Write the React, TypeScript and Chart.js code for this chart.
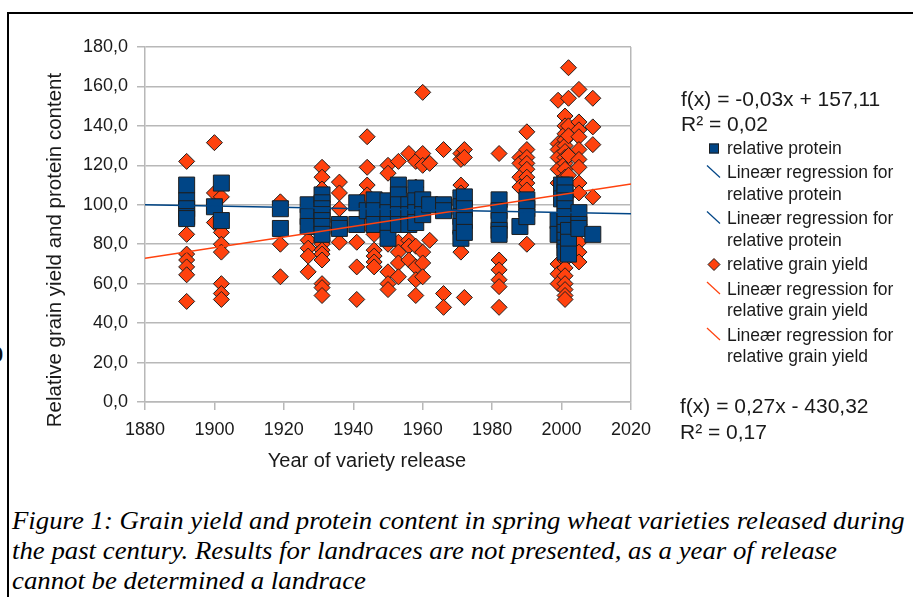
import React, { useEffect, useRef } from "react";
import { Chart, registerables } from "chart.js";

Chart.register(...registerables);

// ---------- DATA ----------
const proteinYears = [1892, 1900, 1902, 1919, 1927, 1931, 1936, 1941, 1944, 1946, 1950, 1953, 1956, 1958, 1960, 1962, 1966, 1971, 1972, 1982, 1988, 1990, 1999, 2000, 2001, 2002, 2005, 2009];
const proteinValues = [
  [110, 102, 98, 94, 93],
  [99],
  [111, 92],
  [98, 88],
  [100, 94, 89],
  [105, 101, 98, 95, 92, 89, 85],
  [90, 88],
  [101, 90],
  [97],
  [102.5, 97, 90],
  [102, 96, 90, 83],
  [110, 105, 100, 95, 90],
  [100, 95, 90],
  [108.5, 102, 96, 91],
  [102.5, 95],
  [100],
  [100, 97],
  [103.5, 99, 94, 89, 83],
  [104, 98, 92, 86],
  [102.5, 97, 92, 87, 85],
  [89],
  [102.5, 98, 94],
  [92, 85],
  [110, 103],
  [110, 106, 102, 98, 94, 90, 86, 82, 78, 76],
  [87, 81, 75],
  [96, 90, 88],
  [85],
];

const yieldYears = [1892, 1900, 1902, 1919, 1927, 1931, 1936, 1941, 1944, 1946, 1950, 1953, 1956, 1958, 1960, 1962, 1966, 1971, 1972, 1982, 1988, 1990, 1999, 2001, 2002, 2005, 2009];
const yieldValues = [
  [122, 85, 75, 72, 68.5, 64.5, 51],
  [131.5, 106, 91],
  [104, 86, 80, 76, 60, 55, 52],
  [101.5, 80, 63.5],
  [87, 82, 78, 74, 66],
  [119, 114, 108, 82, 80, 77, 75, 72, 60, 58, 54],
  [111.5, 106, 98, 81],
  [81, 68.5, 52],
  [134.5, 119, 110, 105, 90],
  [85, 77, 74, 71, 68.5],
  [120, 116, 87, 80, 66, 60, 57],
  [122, 102.5, 81, 76, 70.5, 63.5],
  [126, 90, 82, 79, 72],
  [122, 109, 79, 68.5, 62, 54],
  [157, 126, 120, 76, 70.5, 63.5],
  [121, 100, 82],
  [128, 55, 48],
  [126, 123, 110, 106, 86, 76],
  [128, 124, 53],
  [126, 99, 72, 67, 62, 58.5, 48],
  [124, 121, 114, 109],
  [137, 128, 124, 121, 118, 114, 111, 107.5, 80],
  [153, 131, 128, 124, 118, 111, 70, 65, 60],
  [145, 140, 136, 133, 130, 127, 124, 121, 118, 114, 110, 106, 104, 100, 95, 90, 72, 68, 64, 60, 57, 54, 52],
  [169.5, 154, 140, 135, 125, 115, 105, 85, 78],
  [158.5, 142, 138, 134.5, 128, 123, 119, 111, 106, 90, 86, 81, 76, 71],
  [154, 139.5, 130.5, 104],
];

const proteinTrendYears = [1880, 2020];
const proteinTrendValues = [100.0, 95.4];
const yieldTrendYears = [1880, 2020];
const yieldTrendValues = [72.9, 110.5];

const proteinFormula = ["f(x) = -0,03x + 157,11", "R\u00B2 = 0,02"];
const yieldFormula = ["f(x) = 0,27x - 430,32", "R\u00B2 = 0,17"];

const legendLabels = [
  ["relative protein"],
  ["Line\u00E6r regression for", "relative protein"],
  ["Line\u00E6r regression for", "relative protein"],
  ["relative grain yield"],
  ["Line\u00E6r regression for", "relative grain yield"],
  ["Line\u00E6r regression for", "relative grain yield"],
];
const legendKinds = ["rect", "line", "line", "diamond", "line", "line"];
const legendSeries = ["protein", "protein", "protein", "yield", "yield", "yield"];

const xAxisTitle = "Year of variety release";
const yAxisTitle = "Relative grain yield and protein content";

const captionLines = [
  "Figure 1: Grain yield and protein content in spring wheat varieties released during",
  "the past century. Results for landraces are not presented, as a year of release",
  "cannot be determined a landrace",
];

// ---------- STYLE ----------
const BLUE = "#004586";
const ORANGE = "#ff420e";
const EDGE = "#1e1e1e";
const GRID = "#b8b8b8";
const TEXT = "#1a1a1a";
const FONT = '"Liberation Sans", Arial, sans-serif';

function flatten(years: number[], values: number[][]) {
  const out: { x: number; y: number }[] = [];
  years.forEach((yr, i) => values[i].forEach((v) => out.push({ x: yr, y: v })));
  return out;
}

const overlayPlugin = {
  id: "overlay",
  afterDraw(chart: any) {
    const ctx = chart.ctx as CanvasRenderingContext2D;
    ctx.save();
    ctx.fillStyle = TEXT;
    ctx.textBaseline = "middle";

    // axis titles
    ctx.font = `20.5px ${FONT}`;
    ctx.save();
    ctx.translate(55, 250);
    ctx.rotate(-Math.PI / 2);
    ctx.textAlign = "center";
    ctx.fillText(yAxisTitle, 0, 0);
    ctx.restore();
    ctx.font = `20px ${FONT}`;
    ctx.textAlign = "center";
    ctx.fillText(xAxisTitle, 367, 461);

    // formulas
    ctx.textAlign = "left";
    ctx.font = `21px ${FONT}`;
    ctx.fillText(proteinFormula[0], 681, 100);
    ctx.fillText(proteinFormula[1], 681, 125);
    ctx.fillText(yieldFormula[0], 680, 407);
    ctx.fillText(yieldFormula[1], 680, 433);

    // legend
    ctx.font = `17.5px ${FONT}`;
    let y = 149;
    legendLabels.forEach((lines, i) => {
      const color = legendSeries[i] === "protein" ? BLUE : ORANGE;
      const kind = legendKinds[i];
      if (kind === "rect") {
        ctx.fillStyle = color;
        ctx.fillRect(709, y - 5.5, 10, 10);
        ctx.strokeStyle = EDGE;
        ctx.lineWidth = 1;
        ctx.strokeRect(709.5, y - 5, 9, 9);
      } else if (kind === "diamond") {
        ctx.beginPath();
        ctx.moveTo(714, y - 7);
        ctx.lineTo(720, y - 1);
        ctx.lineTo(714, y + 5);
        ctx.lineTo(708, y - 1);
        ctx.closePath();
        ctx.fillStyle = color;
        ctx.fill();
        ctx.strokeStyle = EDGE;
        ctx.lineWidth = 1;
        ctx.stroke();
      } else {
        ctx.beginPath();
        ctx.moveTo(707, y - 8);
        ctx.lineTo(720, y + 4);
        ctx.strokeStyle = color;
        ctx.lineWidth = 1.2;
        ctx.stroke();
      }
      ctx.fillStyle = TEXT;
      lines.forEach((t, k) => ctx.fillText(t, 727, y + k * 21.5));
      y += (lines.length - 1) * 21.5 + 24.5;
    });
    ctx.restore();
  },
};

export default function App() {
  const ref = useRef<HTMLCanvasElement | null>(null);

  useEffect(() => {
    if (!ref.current) return;
    const chart = new Chart(ref.current, {
      type: "scatter",
      data: {
        datasets: [
          {
            label: "Linear regression protein",
            data: proteinTrendYears.map((x, i) => ({ x, y: proteinTrendValues[i] })),
            showLine: true,
            borderColor: BLUE,
            borderWidth: 1.5,
            pointRadius: 0,
            order: 0,
          },
          {
            label: "Linear regression yield",
            data: yieldTrendYears.map((x, i) => ({ x, y: yieldTrendValues[i] })),
            showLine: true,
            borderColor: ORANGE,
            borderWidth: 1.5,
            pointRadius: 0,
            order: 0,
          },
          {
            label: "relative protein",
            data: flatten(proteinYears, proteinValues),
            pointStyle: "rect",
            pointRadius: 11.3,
            backgroundColor: BLUE,
            borderColor: EDGE,
            borderWidth: 1,
            order: 1,
          },
          {
            label: "relative grain yield",
            data: flatten(yieldYears, yieldValues),
            pointStyle: "rectRot",
            pointRadius: 8,
            backgroundColor: ORANGE,
            borderColor: EDGE,
            borderWidth: 1,
            order: 2,
          },
        ],
      },
      options: {
        responsive: false,
        animation: false,
        events: [],
        layout: { padding: { top: 47, right: 282, left: 0, bottom: 0 } },
        plugins: { legend: { display: false }, tooltip: { enabled: false }, title: { display: false } },
        scales: {
          x: {
            type: "linear",
            min: 1880,
            max: 2020,
            afterFit: (s: any) => {
              s.height = 78;
            },
            ticks: {
              stepSize: 20,
              padding: 9,
              color: TEXT,
              font: { family: FONT, size: 18 },
              callback: (v: any) => String(v),
              maxRotation: 0,
            },
            grid: {
              color: (c: any) => (c.index === 7 ? GRID : "rgba(0,0,0,0)"),
              lineWidth: 1.5,
              tickLength: 8,
              tickColor: GRID,
            },
            border: { display: true, color: GRID, width: 1.5 },
          },
          y: {
            min: 0,
            max: 180,
            afterFit: (s: any) => {
              s.width = 145;
            },
            ticks: {
              stepSize: 20,
              padding: 9,
              color: TEXT,
              font: { family: FONT, size: 18 },
              callback: (v: any) => Number(v).toFixed(1).replace(".", ","),
            },
            grid: { color: GRID, lineWidth: 1.5, tickLength: 8, tickColor: GRID },
            border: { display: true, color: GRID, width: 1.5 },
          },
        },
      },
      plugins: [overlayPlugin],
    } as any);
    return () => chart.destroy();
  }, []);

  return (
    <div style={{ position: "absolute", left: 0, top: 0, width: 913, height: 597, overflow: "hidden" }}>
      <div
        style={{
          position: "absolute",
          left: 7,
          top: 12,
          width: 906,
          height: 585,
          borderLeft: "2px solid #000",
          borderTop: "2px solid #000",
          boxSizing: "border-box",
        }}
      />
      <span
        style={{
          position: "absolute",
          left: -9,
          top: 342,
          font: `bold 22px ${FONT}`,
          color: "#111",
        }}
      >
        0
      </span>
      <canvas ref={ref} width={913} height={480} style={{ position: "absolute", left: 0, top: 0, width: 913, height: 480 }} />
      <div
        style={{
          position: "absolute",
          left: 12,
          top: 506,
          fontFamily: '"Liberation Serif", "Times New Roman", serif',
          fontStyle: "italic",
          fontSize: 26,
          lineHeight: "30px",
          color: "#000",
          whiteSpace: "nowrap",
          transform: "scaleX(1.03)",
          transformOrigin: "0 0",
        }}
      >
        {captionLines.map((l, i) => (
          <div key={i}>{l}</div>
        ))}
      </div>
    </div>
  );
}
